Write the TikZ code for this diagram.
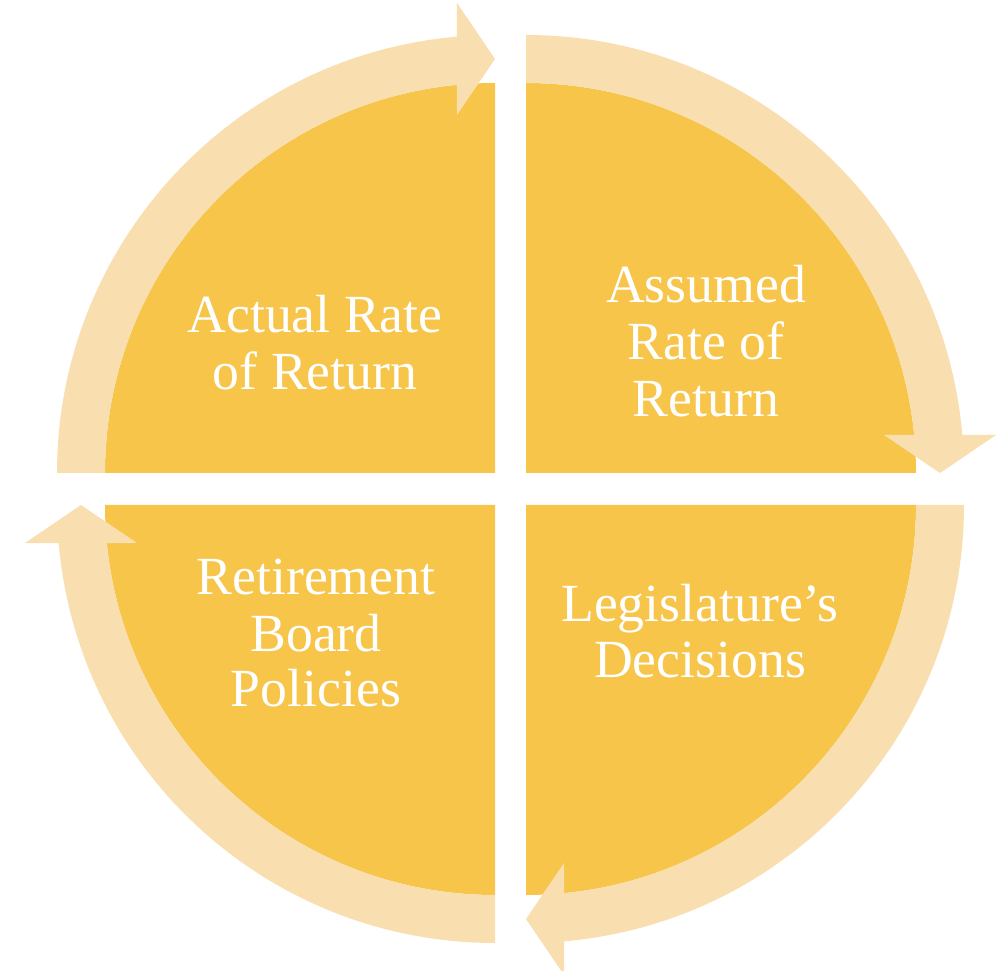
\documentclass[tikz,border=0pt]{standalone}
\usepackage{fontspec}
\setmainfont{Liberation Serif}
\definecolor{wedgecol}{HTML}{F6C54A}
\definecolor{arrowcol}{HTML}{F9DEB0}
\tikzset{
  wedge/.style={fill=wedgecol},
  cyclearrow/.style={fill=arrowcol},
  lbl/.style={text=white, inner sep=0pt, anchor=base, font=\fontsize{53.7}{57}\selectfont}
}
\newcommand{\arrowshape}{%
  (180:438pt) arc[start angle=180, end angle=95, radius=438pt]
  -- (-38,470) -- (0,414) -- (-38,358)
  -- (95.6:390pt) arc[start angle=95.6, end angle=180, radius=390pt] -- cycle}
\begin{document}
\begin{tikzpicture}[x=1pt,y=1pt]
\useasboundingbox (0,0) rectangle (998,971);
% wedges
\fill[wedge] (495,498) -- ++(180:390pt) arc[start angle=180, end angle=90, radius=390pt] -- cycle;
\fill[wedge] (526,498) -- ++(90:390pt) arc[start angle=90, end angle=0, radius=390pt] -- cycle;
\fill[wedge] (526,466) -- ++(0:390pt) arc[start angle=0, end angle=-90, radius=390pt] -- cycle;
\fill[wedge] (495,466) -- ++(270:390pt) arc[start angle=270, end angle=180, radius=390pt] -- cycle;
% arrows
\begin{scope}[shift={(495,498)}]
  \fill[cyclearrow] \arrowshape;
\end{scope}
\begin{scope}[shift={(526,498)},rotate=-90]
  \fill[cyclearrow] \arrowshape;
\end{scope}
\begin{scope}[shift={(526,466)},rotate=-180]
  \fill[cyclearrow] \arrowshape;
\end{scope}
\begin{scope}[shift={(495,466)},rotate=-270]
  \fill[cyclearrow] \arrowshape;
\end{scope}
% labels
\node[lbl] (tl1) at (315,638) {Actual Rate};
\node[lbl] (tl2) at (315,581) {of Return};
\node[lbl] (tr1) at (706,668) {Assumed};
\node[lbl] (tr2) at (706,611) {Rate of};
\node[lbl] (tr3) at (706,554) {Return};
\node[lbl] (br1) at (700,349) {Legislature’s};
\node[lbl] (br2) at (700,293) {Decisions};
\node[lbl] (bl1) at (316,376) {Retirement};
\node[lbl] (bl2) at (316,319) {Board};
\node[lbl] (bl3) at (316,264) {Policies};
\end{tikzpicture}
\end{document}
